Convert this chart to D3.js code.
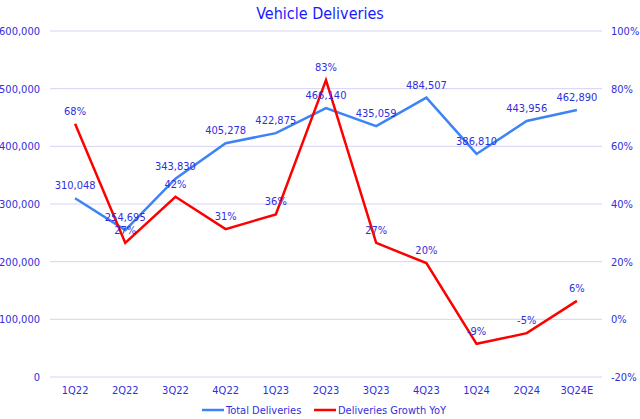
<!DOCTYPE html>
<html>
<head>
<meta charset="utf-8">
<script src="https://cdn.jsdelivr.net/npm/d3@7"></script>
<style>
  html, body { margin: 0; padding: 0; background: #fff; }
  svg { display: block; }
</style>
</head>
<body>
<svg id="chart" width="640" height="419"></svg>
<script>
const categories = ["1Q22","2Q22","3Q22","4Q22","1Q23","2Q23","3Q23","4Q23","1Q24","2Q24","3Q24E"];
const deliveries = [310048,254695,343830,405278,422875,466140,435059,484507,386810,443956,462890];
const growth = [67.8,26.5,42.5,31.3,36.4,83.0,26.5,19.5,-8.5,-4.8,6.4];
const growthLabels = ["68%","27%","42%","31%","36%","83%","27%","20%","-9%","-5%","6%"];
const leftTicks = [0,100000,200000,300000,400000,500000,600000];
const rightTicks = [-20,0,20,40,60,80,100];

const font = "'DejaVu Sans Condensed','DejaVu Sans',Tahoma,sans-serif";
const txt = "#2f2fdc";
const blue = "#3d83f5";
const red = "#ff0000";

const svg = d3.select("#chart");
const L = 50, R = 602, T = 31, B = 377;

const x = d3.scaleBand().domain(categories).range([L, R]);
const yL = d3.scaleLinear().domain([0, 600000]).range([B, T]);
const yR = d3.scaleLinear().domain([-20, 100]).range([B, T]);
const cx = c => x(c) + x.bandwidth() / 2;

// title
svg.append("text").attr("x", 320).attr("y", 19).attr("text-anchor", "middle")
  .attr("font-family", font).attr("font-size", 16).attr("fill", "#1a1aff")
  .text("Vehicle Deliveries");

// gridlines
svg.append("g").selectAll("line").data(leftTicks).join("line")
  .attr("x1", L).attr("x2", R)
  .attr("y1", d => yL(d)).attr("y2", d => yL(d))
  .attr("stroke", "#d4d4f7").attr("stroke-width", 1);

// left axis
const gl = svg.append("g").attr("transform", `translate(${L},0)`)
  .call(d3.axisLeft(yL).tickValues(leftTicks).tickFormat(d3.format(",")).tickSize(0).tickPadding(10));
gl.select(".domain").remove();
gl.selectAll("text").attr("font-family", font).attr("font-size", 11).attr("fill", txt);

// right axis
const gr = svg.append("g").attr("transform", `translate(${R},0)`)
  .call(d3.axisRight(yR).tickValues(rightTicks).tickFormat(d => d + "%").tickSize(0).tickPadding(9));
gr.select(".domain").remove();
gr.selectAll("text").attr("font-family", font).attr("font-size", 11).attr("fill", txt);

// bottom axis
const gb = svg.append("g").attr("transform", `translate(0,${B})`)
  .call(d3.axisBottom(x).tickSize(0).tickPadding(9));
gb.select(".domain").remove();
gb.selectAll("text").attr("font-family", font).attr("font-size", 11).attr("fill", txt);

// lines
const lineL = d3.line().x((d, i) => cx(categories[i])).y(d => yL(d));
const lineR = d3.line().x((d, i) => cx(categories[i])).y(d => yR(d));

svg.append("path").datum(deliveries).attr("d", lineL)
  .attr("fill", "none").attr("stroke", blue).attr("stroke-width", 2.5).attr("stroke-linejoin", "miter");
svg.append("path").datum(growth).attr("d", lineR)
  .attr("fill", "none").attr("stroke", red).attr("stroke-width", 2.5).attr("stroke-linejoin", "miter");

// labels
svg.append("g").selectAll("text").data(deliveries).join("text")
  .attr("x", (d, i) => cx(categories[i])).attr("y", d => yL(d) - 9)
  .attr("text-anchor", "middle").attr("font-family", font).attr("font-size", 11).attr("fill", txt)
  .text(d => d3.format(",")(d));
svg.append("g").selectAll("text").data(growth).join("text")
  .attr("x", (d, i) => cx(categories[i])).attr("y", d => yR(d) - 9)
  .attr("text-anchor", "middle").attr("font-family", font).attr("font-size", 11).attr("fill", txt)
  .text((d, i) => growthLabels[i]);

// legend
const leg = [
  {name: "Total Deliveries", color: blue, x: 202},
  {name: "Deliveries Growth YoY", color: red, x: 314}
];
const lg = svg.append("g");
leg.forEach(l => {
  lg.append("line").attr("x1", l.x).attr("x2", l.x + 22).attr("y1", 410).attr("y2", 410)
    .attr("stroke", l.color).attr("stroke-width", 2.5);
  lg.append("text").attr("x", l.x + 24).attr("y", 414)
    .attr("font-family", font).attr("font-size", 11).attr("fill", txt).text(l.name);
});
</script>
</body>
</html>
